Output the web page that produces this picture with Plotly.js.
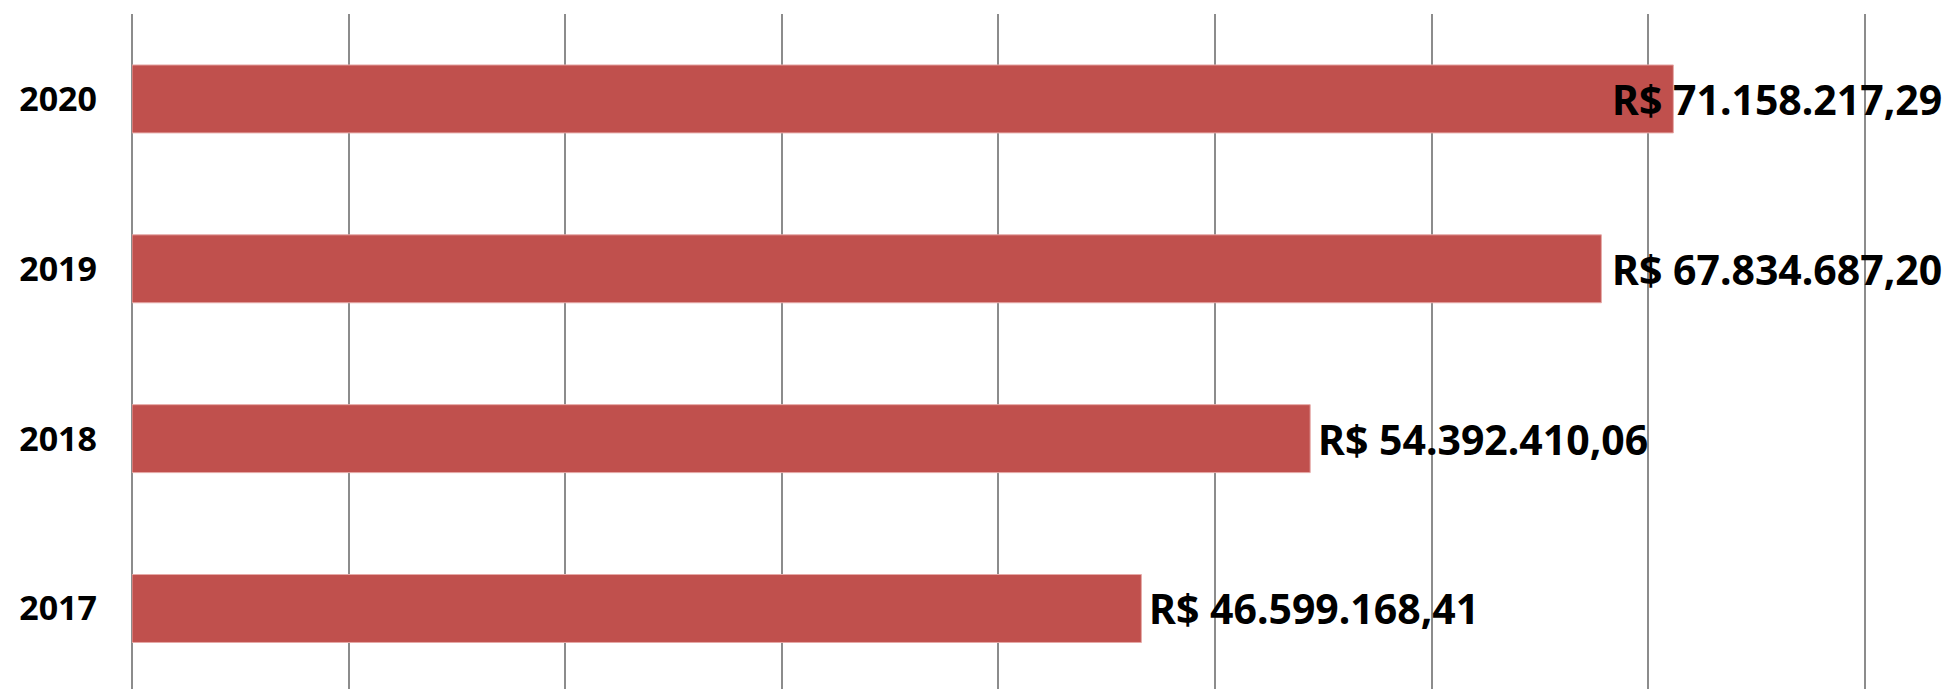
<!DOCTYPE html>
<html>
<head>
<meta charset="utf-8">
<script src="https://cdn.plot.ly/plotly-3.0.1.min.js"></script>
<style>
html,body{margin:0;padding:0;background:#fff;}
#chart{width:1950px;height:689px;}
</style>
</head>
<body>
<div id="chart"></div>
<script>
const years = ['2017', '2018', '2019', '2020'];
const values = [46599168.41, 54392410.06, 67834687.20, 71158217.29];
const valueLabels = ['R$ 46.599.168,41', 'R$ 54.392.410,06', 'R$ 67.834.687,20', 'R$ 71.158.217,29'];
const gridTicks = [0, 10000000, 20000000, 30000000, 40000000, 50000000, 60000000, 70000000, 80000000];

const labelFont = {family: 'Noto Sans, Open Sans, sans-serif', size: 41, color: '#000000'};
const overflowLimit = 62000000;

const annotations = years.map((y, i) => {
  if (values[i] > overflowLimit) {
    return {x: 0.9965, xref: 'paper', y: i, yref: 'y', text: '<b>' + valueLabels[i] + '</b>',
      showarrow: false, xanchor: 'right', yanchor: 'middle', font: Object.assign({}, labelFont)};
  }
  return {x: values[i], xref: 'x', y: i, yref: 'y', text: '<b>' + valueLabels[i] + '</b>',
    showarrow: false, xanchor: 'left', yanchor: 'middle', xshift: 6, font: Object.assign({}, labelFont)};
});

const trace = {
  type: 'bar',
  orientation: 'h',
  y: years,
  x: values,
  marker: {color: '#C0504D', line: {color: '#E6A9A7', width: 1}},
  width: 0.4,
  hoverinfo: 'none'
};

const layout = {
  width: 1950,
  height: 689,
  margin: {l: 132, r: 0, t: 14, b: 0, pad: 0},
  paper_bgcolor: '#fff',
  plot_bgcolor: '#fff',
  showlegend: false,
  xaxis: {
    range: [0, 83930000],
    tickvals: gridTicks,
    showticklabels: false,
    showgrid: true,
    gridcolor: '#8C8C8C',
    gridwidth: 2,
    zeroline: true,
    zerolinecolor: '#8C8C8C',
    zerolinewidth: 2,
    showline: false,
    fixedrange: true
  },
  yaxis: {
    type: 'category',
    categoryarray: years,
    range: [-0.474, 3.5],
    showgrid: false,
    zeroline: false,
    showline: false,
    ticks: '',
    ticklabelstandoff: 34,
    tickfont: {family: 'Noto Sans, Open Sans, sans-serif', size: 34, color: '#000', weight: 'bold'},
    fixedrange: true
  },
  annotations: annotations
};

Plotly.newPlot('chart', [trace], layout, {displayModeBar: false});
</script>
</body>
</html>
